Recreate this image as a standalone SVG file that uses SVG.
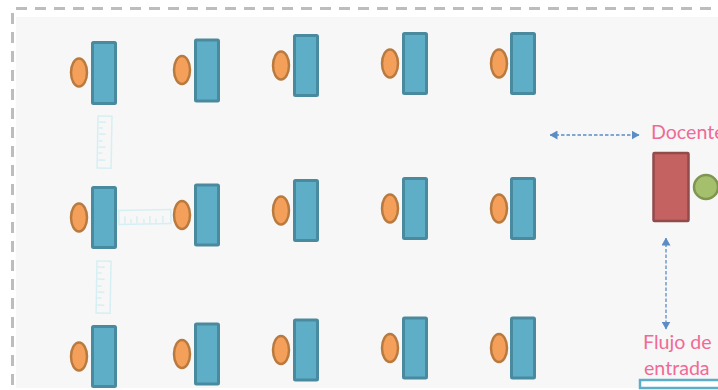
<svg xmlns="http://www.w3.org/2000/svg" width="718" height="390" viewBox="0 0 718 390">
<style>
.d{fill:#5eaec8;stroke:#4a8a9e;stroke-width:3}
.s{fill:#f5a05a;stroke:#b97a3f;stroke-width:2.500}
.r{fill:none;stroke:#d6eff3;stroke-width:1.500}
.c{fill:none;stroke:#5b8cc4;stroke-width:1.300;stroke-dasharray:3.500 2}
.t{font-family:"Lato","Open Sans",sans-serif;font-size:19.600px;fill:#f06a96}
</style>
<defs>
<marker id="a" viewBox="0 0 8 8" refX="7.500" refY="4" markerWidth="8" markerHeight="9" markerUnits="userSpaceOnUse" orient="auto-start-reverse" preserveAspectRatio="none"><path d="M0 0L8 4L0 8Z" fill="#5b8cc4"/></marker>
<g id="rul"><rect x="0" y="0" width="14" height="52" class="r"/><path class="r" d="M1 6h7M1 12h4M1 18h7M1 25h4M1 31h7M1 37h4M1 44h7"/></g>
</defs>
<rect width="718" height="390" fill="#fff"/>
<rect x="16" y="17" width="702" height="371" fill="#f7f7f7"/>
<path d="M16 8.500H718" fill="none" stroke="#bdbdbd" stroke-width="3" stroke-dasharray="11 8"/>
<path d="M12.500 13V390" fill="none" stroke="#bdbdbd" stroke-width="3" stroke-dasharray="11 8"/>
<g id="rulers">
<use href="#rul" transform="translate(98 116) rotate(1)"/>
<use href="#rul" transform="translate(119 224.500) rotate(-91)"/>
<use href="#rul" transform="translate(97 261) rotate(1)"/>
</g>
<g id="s11"><ellipse class="s" cx="79" cy="72.500" rx="8" ry="14"/><rect class="d" x="92.500" y="42.500" width="23" height="61" rx="1"/></g>
<g id="s12"><ellipse class="s" cx="182" cy="70" rx="8" ry="14"/><rect class="d" x="195.500" y="40" width="23" height="61" rx="1"/></g>
<g id="s13"><ellipse class="s" cx="281" cy="65.500" rx="8" ry="14"/><rect class="d" x="294.500" y="35.500" width="23" height="60" rx="1"/></g>
<g id="s14"><ellipse class="s" cx="390" cy="63.500" rx="8" ry="14"/><rect class="d" x="403.500" y="33.500" width="23" height="60" rx="1"/></g>
<g id="s15"><ellipse class="s" cx="499" cy="63.500" rx="8" ry="14"/><rect class="d" x="511.500" y="33.500" width="23" height="60" rx="1"/></g>
<g id="s21"><ellipse class="s" cx="79" cy="217.500" rx="8" ry="14"/><rect class="d" x="92.500" y="187.500" width="23" height="60" rx="1"/></g>
<g id="s22"><ellipse class="s" cx="182" cy="215" rx="8" ry="14"/><rect class="d" x="195.500" y="185" width="23" height="60" rx="1"/></g>
<g id="s23"><ellipse class="s" cx="281" cy="210.500" rx="8" ry="14"/><rect class="d" x="294.500" y="180.500" width="23" height="60" rx="1"/></g>
<g id="s24"><ellipse class="s" cx="390" cy="208.500" rx="8" ry="14"/><rect class="d" x="403.500" y="178.500" width="23" height="60" rx="1"/></g>
<g id="s25"><ellipse class="s" cx="499" cy="208.500" rx="8" ry="14"/><rect class="d" x="511.500" y="178.500" width="23" height="60" rx="1"/></g>
<g id="s31"><ellipse class="s" cx="79" cy="356.500" rx="8" ry="14"/><rect class="d" x="92.500" y="326.500" width="23" height="60" rx="1"/></g>
<g id="s32"><ellipse class="s" cx="182" cy="354" rx="8" ry="14"/><rect class="d" x="195.500" y="324" width="23" height="60" rx="1"/></g>
<g id="s33"><ellipse class="s" cx="281" cy="350" rx="8" ry="14"/><rect class="d" x="294.500" y="320" width="23" height="60" rx="1"/></g>
<g id="s34"><ellipse class="s" cx="390" cy="348" rx="8" ry="14"/><rect class="d" x="403.500" y="318" width="23" height="60" rx="1"/></g>
<g id="s35"><ellipse class="s" cx="499" cy="348" rx="8" ry="14"/><rect class="d" x="511.500" y="318" width="23" height="60" rx="1"/></g>
<g id="docente">
<text class="t" x="651" y="139">Docente</text>
<rect x="653.500" y="153" width="35" height="68" rx="1" fill="#c46161" stroke="#934a4a" stroke-width="2.500"/>
<circle cx="706" cy="187" r="12" fill="#a5c06c" stroke="#7f9651" stroke-width="2.500"/>
</g>
<g id="entrada">
<text class="t" x="643" y="349">Flujo de</text>
<text class="t" x="644" y="375">entrada</text>
<rect x="640" y="380" width="90" height="8" fill="#fff" stroke="#5eaec8" stroke-width="2.500"/>
</g>
<g id="connectors">
<path class="c" d="M550 135H639" marker-start="url(#a)" marker-end="url(#a)"/>
<path class="c" d="M666 238V329" marker-start="url(#a)" marker-end="url(#a)"/>
</g>
</svg>
